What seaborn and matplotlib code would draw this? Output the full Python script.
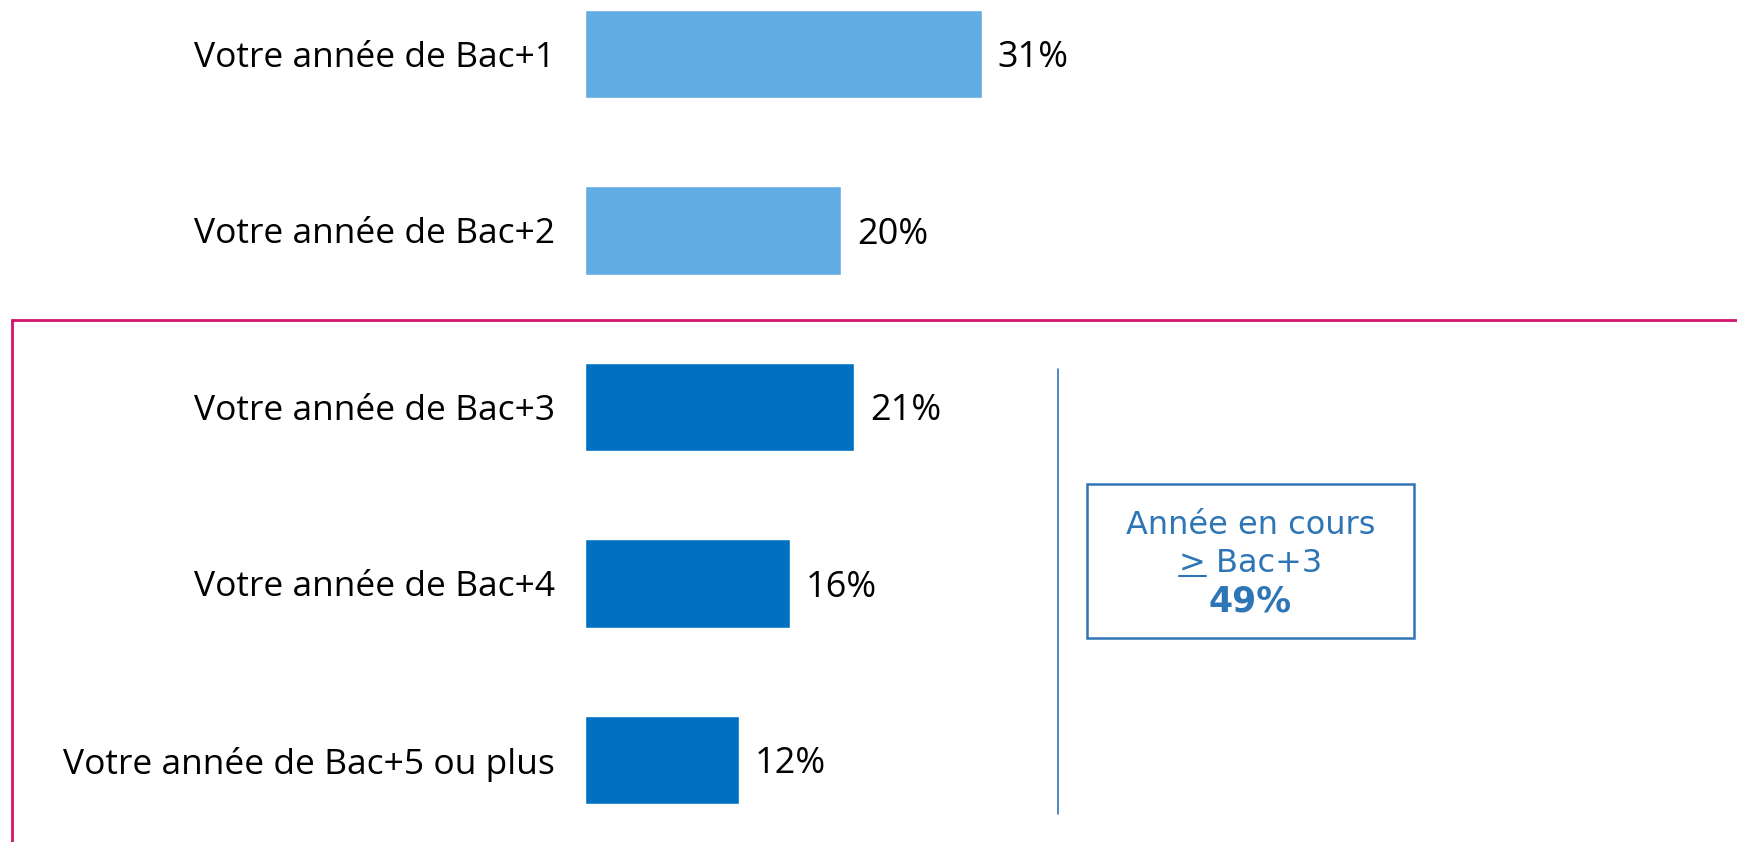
import matplotlib

matplotlib.use("Agg")
import matplotlib.pyplot as plt
import seaborn as sns
from matplotlib.patches import Rectangle
from matplotlib.lines import Line2D

# data
categories = [
    "Votre année de Bac+1",
    "Votre année de Bac+2",
    "Votre année de Bac+3",
    "Votre année de Bac+4",
    "Votre année de Bac+5 ou plus",
]
values = [31, 20, 21, 16, 12]
bar_colors = ["#61ADE3", "#61ADE3", "#0070C0", "#0070C0", "#0070C0"]
box_lines = ["Année en cours", "> Bac+3", "49%"]

W, H = 1737, 842
sns.set_theme(style="white")
plt.rcParams["font.family"] = ["Open Sans", "DejaVu Sans"]

fig = plt.figure(figsize=(W / 100, H / 100), dpi=100)
fig.patch.set_facecolor("white")

x0 = 585
ax = fig.add_axes([x0 / W, 0, 1 - x0 / W, 1])
sns.barplot(
    x=values, y=categories, hue=categories, palette=bar_colors,
    orient="h", width=0.5, legend=False, ax=ax, saturation=1,
)
ax.set_xlim(0, (W - x0) / 12.8)
pitch = 176.5
ax.set_ylim((H - 54) / pitch, -54 / pitch)
ax.set_xlabel("")
ax.set_ylabel("")
ax.set_xticks([])
ax.tick_params(axis="y", length=0, pad=21.5, labelsize=25.5, labelcolor="black")
sns.despine(ax=ax, left=True, bottom=True)
ax.patch.set_alpha(0)

for cont, v in zip(ax.containers, values):
    labs = ax.bar_label(cont, labels=[f"{v}%"], padding=11.5, fontsize=26, color="black")
    for lab in labs:
        lab.xyann = (lab.xyann[0], -3)

# pink frame around Bac+3 and above
fig.patches.append(Rectangle((12 / W, -0.05), 1.2, 1 - 320 / H + 0.05,
                             transform=fig.transFigure, fill=False,
                             edgecolor="#D3126E", linewidth=2, zorder=0))

# vertical separator
fig.lines.append(Line2D([1058 / W, 1058 / W], [1 - 369 / H, 1 - 814 / H],
                        transform=fig.transFigure, color="#2E75B6", linewidth=1.2))

# summary box
bx0, by0, bx1, by1 = 1087, 484, 1414, 638
fig.patches.append(Rectangle((bx0 / W, 1 - by1 / H), (bx1 - bx0) / W, (by1 - by0) / H,
                             transform=fig.transFigure, fill=False,
                             edgecolor="#2E75B6", linewidth=1.8))
cx = (bx0 + bx1) / 2 / W
blue = "#2E75B6"
fig.text(cx, 1 - 526 / H, box_lines[0], ha="center", va="center", fontsize=23,
         color=blue, family="DejaVu Sans")
t2 = fig.text(cx, 1 - 564 / H, box_lines[1], ha="center", va="center", fontsize=23,
              color=blue, family="DejaVu Sans")
fig.text(cx, 1 - 602 / H, box_lines[2], ha="center", va="center", fontsize=25,
         color=blue, family="DejaVu Sans", weight="bold")

# underline the ">" sign
r = fig.canvas.get_renderer()
bb = t2.get_window_extent(r)
gt = fig.text(0, 0, ">", fontsize=23, family="DejaVu Sans")
gw = gt.get_window_extent(r).width
gt.remove()
uy = (bb.y0 + 4) / H
fig.lines.append(Line2D([bb.x0 / W, (bb.x0 + gw) / W], [uy, uy],
                        transform=fig.transFigure, color=blue, linewidth=1.5))

fig.savefig("out.png", dpi=100)
